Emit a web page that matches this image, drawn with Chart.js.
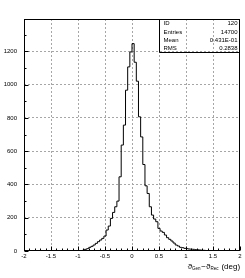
<!DOCTYPE html>
<html>
<head>
<meta charset="utf-8">
<script src="https://cdn.jsdelivr.net/npm/chart.js@4.4.1/dist/chart.umd.min.js"></script>
<style>
  html, body { margin: 0; padding: 0; background: #ffffff; }
  #c { display: block; }
</style>
</head>
<body>
<canvas id="c" width="245" height="278"></canvas>
<script>
// ---- histogram definition (bins of 0.04 deg from -2 to 2) ----
const xMin = -2;
const xMax = 2;
const binWidth = 0.04;
const binCounts = [
  0, 0, 0, 0, 0, 0, 0, 0, 0, 0,
  0, 0, 0, 0, 0, 0, 0, 0, 0, 0,
  0, 0, 0, 0, 0, 1, 2, 4, 10, 14,
  22, 28, 36, 46, 56, 66, 76, 90, 126, 150,
  196, 232, 266, 300, 446, 637, 757, 967, 1107, 1197,
  1247, 1135, 1021, 807, 686, 520, 392, 346, 266, 216,
  192, 176, 136, 120, 112, 96, 80, 70, 60, 48,
  36, 30, 22, 20, 16, 14, 12, 11, 10, 8,
  7, 6, 5, 4, 3, 3, 2, 2, 1, 1,
  0, 0, 0, 0, 0, 0, 0, 0, 0, 0
];
const xTickValues = [-2, -1.5, -1, -0.5, 0, 0.5, 1, 1.5, 2];
const yTickValues = [0, 200, 400, 600, 800, 1000, 1200];
const yMax = 1395;
const statLabels = ["ID", "Entries", "Mean", "RMS"];
const statValues = ["120", "14700", "0.431E-01", "0.2838"];
const titleParts = ["\u03D1", "Gen", "\u2212", "\u03D1", "Rec", " (deg)"];

// step outline points (left bin edges, then closing edge)
const points = binCounts.map((v, i) => ({ x: xMin + i * binWidth, y: v }));
points.push({ x: xMax, y: 0 });

const FONT = "'Liberation Sans', Arial, sans-serif";
const GRID = '#a6a6a6';

const framePlugin = {
  id: 'frame',
  afterDatasetsDraw(chart) {
    const { ctx, chartArea: a, scales } = chart;
    const xs = scales.x, ys = scales.y;
    ctx.save();
    ctx.strokeStyle = '#000';
    ctx.lineWidth = 1;
    // frame
    ctx.strokeRect(Math.round(a.left) + 0.5, Math.round(a.top) + 0.5,
                   Math.round(a.right - a.left) - 1, Math.round(a.bottom - a.top) - 1);
    // x ticks (inside, upward)
    ctx.beginPath();
    const bottom = Math.round(a.bottom) - 0.5;
    for (let k = -20; k <= 20; k++) {
      const v = k / 10;
      const px = Math.round(xs.getPixelForValue(v)) + 0.5;
      const len = (k % 5 === 0) ? 4 : 2;
      ctx.moveTo(px, bottom);
      ctx.lineTo(px, bottom - len);
    }
    // y ticks (inside, rightward)
    const left = Math.round(a.left) + 0.5;
    for (let v = 0; v <= 1300; v += 100) {
      const py = Math.round(ys.getPixelForValue(v)) + 0.5;
      const len = (v % 200 === 0) ? 4 : 2;
      ctx.moveTo(left, py);
      ctx.lineTo(left + len, py);
    }
    ctx.stroke();

    // statistics box
    const bx0 = 159.5, bx1 = Math.round(a.right) - 0.5;
    const by0 = Math.round(a.top) + 0.5, by1 = 52.5;
    ctx.beginPath();
    ctx.moveTo(bx0, by0); ctx.lineTo(bx0, by1); ctx.lineTo(bx1, by1);
    ctx.stroke();
    ctx.fillStyle = '#000';
    ctx.font = '6px ' + FONT;
    ctx.textBaseline = 'middle';
    const rowH = (by1 - by0) / statLabels.length;
    statLabels.forEach((lab, i) => {
      const cy = by0 + rowH * (i + 0.5);
      ctx.textAlign = 'left';
      ctx.fillText(lab, bx0 + 4, cy);
      ctx.textAlign = 'right';
      ctx.fillText(statValues[i], bx1 - 2, cy);
    });

    // x-axis title with subscripts, right aligned
    const big = '8px ' + FONT, sub = '4.5px ' + FONT, deg = '8px ' + FONT;
    const styles = [big, sub, big, big, sub, deg];
    const dy = [0, 1.8, 0, 0, 1.8, 0];
    let widths = titleParts.map((t, i) => { ctx.font = styles[i]; return ctx.measureText(t).width; });
    let total = widths.reduce((s, w) => s + w, 0) + 1.5;
    let x = 240 - total;
    const baseY = 267;
    ctx.textAlign = 'left';
    ctx.textBaseline = 'middle';
    titleParts.forEach((t, i) => {
      ctx.font = styles[i];
      ctx.fillText(t, x, baseY + dy[i]);
      x += widths[i] + (i === 1 || i === 4 ? 0.8 : 0);
    });
    ctx.restore();
  }
};

new Chart(document.getElementById('c'), {
  type: 'line',
  data: {
    datasets: [{
      data: points,
      stepped: 'before',
      borderColor: '#000',
      borderWidth: 1,
      pointRadius: 0,
      fill: false,
      tension: 0
    }]
  },
  options: {
    responsive: false,
    animation: false,
    devicePixelRatio: 1,
    layout: { padding: { top: 19, right: 5, left: 0, bottom: 0 } },
    plugins: { legend: { display: false }, tooltip: { enabled: false } },
    scales: {
      x: {
        type: 'linear',
        min: xMin,
        max: xMax,
        afterBuildTicks: (s) => { s.ticks = xTickValues.map(v => ({ value: v })); },
        afterFit: (s) => { s.height = 27; },
        ticks: {
          color: '#000',
          font: { family: FONT, size: 6 },
          padding: 2,
          maxRotation: 0,
          autoSkip: false,
          callback: (v) => String(v)
        },
        grid: {
          drawTicks: false,
          color: (c) => (c.tick && (c.tick.value === xMin || c.tick.value === xMax)) ? 'rgba(0,0,0,0)' : GRID,
          lineWidth: 1
        },
        border: { display: false, dash: [2, 2] }
      },
      y: {
        type: 'linear',
        min: 0,
        max: yMax,
        afterBuildTicks: (s) => { s.ticks = yTickValues.map(v => ({ value: v })); },
        afterFit: (s) => { s.width = 24; },
        ticks: {
          color: '#000',
          font: { family: FONT, size: 6 },
          padding: 7,
          autoSkip: false,
          callback: (v) => String(v)
        },
        grid: {
          drawTicks: false,
          color: (c) => (c.tick && c.tick.value === 0) ? 'rgba(0,0,0,0)' : GRID,
          lineWidth: 1
        },
        border: { display: false, dash: [2, 2] }
      }
    }
  },
  plugins: [framePlugin]
});
</script>
</body>
</html>
